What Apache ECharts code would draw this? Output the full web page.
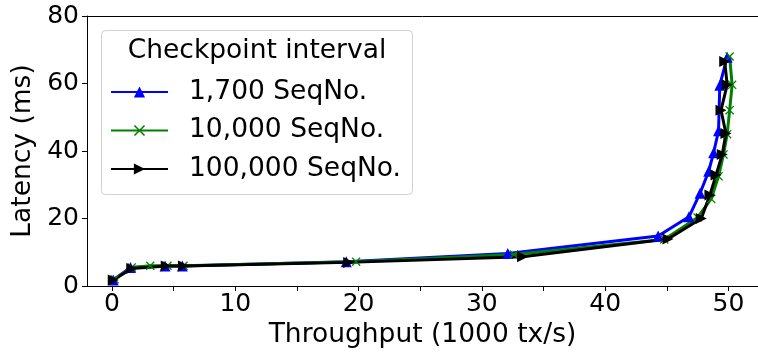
<!DOCTYPE html>
<html>
<head>
<meta charset="utf-8">
<script src="https://cdn.jsdelivr.net/npm/echarts@6/dist/echarts.min.js"></script>
<style>
  html, body { margin: 0; padding: 0; background: #fff; }
  #chart { width: 758px; height: 358px; }
</style>
</head>
<body>
<div id="chart"></div>
<script>
// Latency vs. throughput for three checkpoint intervals
const seriesNames = ['1,700 SeqNo.', '10,000 SeqNo.', '100,000 SeqNo.'];

const throughput1700 = [0.1, 1.5, 4.3, 5.7, 19.0, 32.1, 44.3, 46.8, 47.7, 48.4, 48.8, 49.2, 49.3, 49.9];
const latency1700    = [1.8, 5.5, 5.9, 5.9, 7.2, 9.6, 14.8, 20.5, 27.5, 34.0, 39.5, 46.0, 59.5, 67.8];

const throughput10000 = [0.2, 1.6, 3.1, 4.5, 5.8, 19.8, 32.6, 44.8, 47.5, 48.6, 49.2, 49.6, 49.9, 50.1, 50.3, 50.1];
const latency10000    = [2.0, 5.5, 6.0, 6.0, 6.0, 7.2, 9.3, 13.8, 20.3, 25.8, 32.5, 39.0, 45.0, 52.1, 59.6, 68.0];

const throughput100000 = [0.1, 1.6, 4.4, 5.8, 19.2, 33.3, 45.1, 47.8, 48.5, 49.0, 49.5, 49.8, 49.4, 49.9, 49.7];
const latency100000    = [1.8, 5.2, 5.9, 5.9, 7.0, 8.7, 13.9, 20.0, 27.0, 32.9, 39.0, 45.2, 52.1, 59.6, 66.5];

const xTicks = [0, 5, 10, 15, 20, 25, 30, 35, 40, 45, 50];
const xTickLabels = [0, 10, 20, 30, 40, 50];
const yTicks = [0, 20, 40, 60, 80];

const FONT = 'DejaVu Sans';
const crossPath = 'path://M0,1L1,0L5,4L9,0L10,1L6,5L10,9L9,10L5,6L1,10L0,9L4,5Z';

function pairs(xs, ys) { return xs.map((x, i) => [x, ys[i]]); }

const chart = echarts.init(document.getElementById('chart'), null, { renderer: 'canvas' });

const tickText = { color: '#000', fontFamily: FONT, fontSize: 25 };
const titleText = { color: '#000', fontFamily: FONT, fontSize: 26.5 };

chart.setOption({
  animation: false,
  backgroundColor: '#fff',
  grid: { left: 87, right: 0, top: 16, bottom: 72, containLabel: false },
  xAxis: [{
    type: 'value', min: -2.03, max: 52.4,
    name: 'Throughput (1000 tx/s)', nameLocation: 'middle', nameGap: 31,
    nameTextStyle: titleText,
    axisLine: { show: true, onZero: false, lineStyle: { color: '#000', width: 1 } },
    axisTick: { show: true, length: 5, lineStyle: { color: '#000' }, customValues: xTicks },
    axisLabel: { ...tickText, margin: 6, customValues: xTickLabels },
    splitLine: { show: false }
  }, {
    type: 'value', position: 'top', min: -2.03, max: 52.4,
    axisLine: { show: true, onZero: false, lineStyle: { color: '#000', width: 1 } },
    axisTick: { show: false }, axisLabel: { show: false }, splitLine: { show: false }
  }],
  yAxis: {
    type: 'value', min: 0, max: 80,
    name: 'Latency (ms)', nameLocation: 'middle', nameGap: 45, nameRotate: 90,
    nameTextStyle: titleText,
    axisLine: { show: true, onZero: false, lineStyle: { color: '#000', width: 1 } },
    axisTick: { show: true, length: 5, lineStyle: { color: '#000' }, customValues: yTicks },
    axisLabel: { ...tickText, margin: 8, customValues: yTicks },
    splitLine: { show: false }
  },
  legend: {
    orient: 'vertical', left: 110, top: 78, padding: 0,
    itemWidth: 57, itemHeight: 14, itemGap: 10.5,
    textStyle: { color: '#000', fontFamily: FONT, fontSize: 26.5, lineHeight: 28, padding: [0, 0, 0, 16] },
    data: seriesNames
  },
  graphic: [{
    type: 'rect', z: 0,
    shape: { x: 101.5, y: 30.5, width: 311, height: 164, r: 4 },
    style: { fill: 'rgba(255,255,255,0.8)', stroke: '#d0d0d0', lineWidth: 1 }
  }, {
    type: 'text', z: 10,
    style: { x: 257, y: 51, text: 'Checkpoint interval', fill: '#000', font: '26.5px "DejaVu Sans"', textAlign: 'center', textVerticalAlign: 'middle' }
  }],
  series: [{
    name: seriesNames[0], type: 'line', data: pairs(throughput1700, latency1700),
    symbol: 'triangle', symbolSize: 11, showSymbol: true,
    lineStyle: { color: '#0000ff', width: 3 }, itemStyle: { color: '#0000ff' }
  }, {
    name: seriesNames[1], type: 'line', data: pairs(throughput10000, latency10000),
    symbol: crossPath, symbolSize: 9, showSymbol: true,
    lineStyle: { color: '#008000', width: 3 }, itemStyle: { color: '#008000' }
  }, {
    name: seriesNames[2], type: 'line', data: pairs(throughput100000, latency100000),
    symbol: 'triangle', symbolRotate: -90, symbolSize: 11, showSymbol: true,
    lineStyle: { color: '#000000', width: 3 }, itemStyle: { color: '#000000' }
  }]
});
</script>
</body>
</html>
